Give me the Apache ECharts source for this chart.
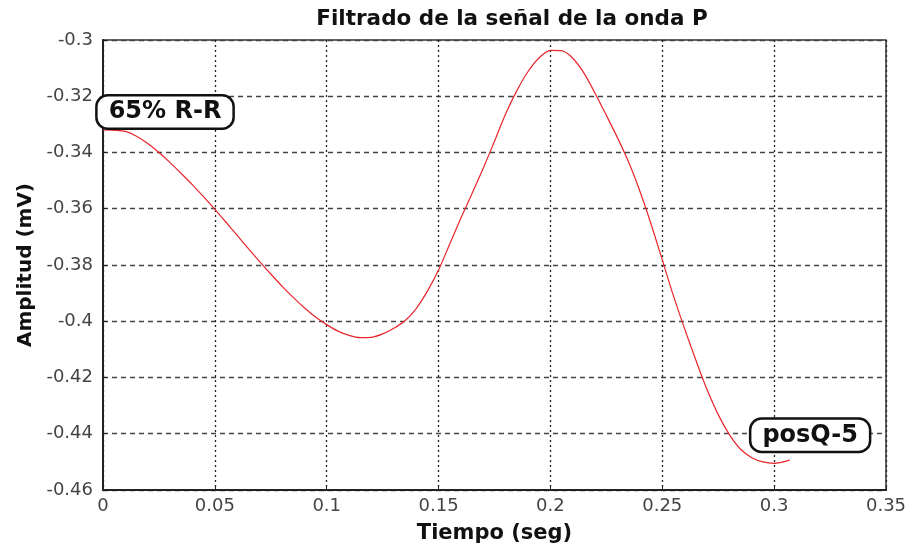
<!DOCTYPE html>
<html>
<head>
    <meta charset="utf-8"/>
    <title>Filtrado onda P</title>
    <script src="https://cdn.jsdelivr.net/npm/echarts@6/dist/echarts.min.js"></script>
    <style>
        html, body { margin: 0; padding: 0; background: #fff; }
        #main { width: 912px; height: 544px; }
    </style>
</head>
<body>
<div id="main"></div>
<script type="text/javascript">
    // tiempo (seg)
    var tiempo = [0, 0.005, 0.01, 0.015, 0.02, 0.025, 0.03, 0.035, 0.04, 0.045,
        0.05, 0.055, 0.06, 0.065, 0.07, 0.075, 0.08, 0.085, 0.09, 0.095,
        0.1, 0.105, 0.11, 0.115, 0.12, 0.125, 0.13, 0.135, 0.14, 0.145,
        0.15, 0.155, 0.16, 0.165, 0.17, 0.175, 0.18, 0.185, 0.19, 0.195,
        0.2, 0.205, 0.21, 0.215, 0.22, 0.225, 0.23, 0.235, 0.24, 0.245,
        0.25, 0.255, 0.26, 0.265, 0.27, 0.275, 0.28, 0.285, 0.29, 0.295,
        0.3, 0.305, 0.307];
    // amplitud (mV)
    var amplitud = [-0.332, -0.3321, -0.3325, -0.3342, -0.3368, -0.34, -0.3436, -0.3475, -0.3515, -0.3558,
        -0.3602, -0.3648, -0.3695, -0.3742, -0.3788, -0.3832, -0.3875, -0.3915, -0.3952, -0.3985,
        -0.4012, -0.4035, -0.405, -0.4058, -0.4057, -0.4045, -0.4025, -0.3998, -0.3955, -0.3893,
        -0.3818, -0.3725, -0.3633, -0.3545, -0.3455, -0.336, -0.3262, -0.318, -0.3112, -0.3063,
        -0.3037, -0.3038, -0.3065, -0.3118, -0.319, -0.3268, -0.3348, -0.3435, -0.3538, -0.3655,
        -0.3782, -0.391, -0.4027, -0.4138, -0.4243, -0.4332, -0.4403, -0.4455, -0.4485, -0.45,
        -0.4505, -0.4498, -0.4493];
    var etiquetas = ['65% R-R', 'posQ-5'];

    var datos = [];
    for (var i = 0; i < tiempo.length; i++) {
        datos.push([tiempo[i], amplitud[i]]);
    }

    var myChart = echarts.init(document.getElementById('main'));
    var fuente = 'DejaVu Sans';
    var cajaLabel = {
        show: true,
        color: '#111',
        fontFamily: fuente,
        fontWeight: 'bold',
        fontSize: 24,
        lineHeight: 26,
        backgroundColor: '#fff',
        borderColor: '#111',
        borderWidth: 2.5,
        borderRadius: 10,
        padding: [3, 11, 2, 11]
    };
    var option = {
        animation: false,
        title: {
            text: 'Filtrado de la señal de la onda P',
            left: 507,
            top: 3,
            textAlign: 'center',
            textStyle: { fontFamily: fuente, fontWeight: 'bold', fontSize: 21.5, color: '#111' }
        },
        grid: {
            left: 103, right: 26, top: 40, bottom: 54,
            outerBoundsMode: 'none',
            show: true, borderColor: '#333', borderWidth: 1.5
        },
        xAxis: {
            type: 'value',
            min: 0, max: 0.35, interval: 0.05,
            name: 'Tiempo (seg)',
            nameLocation: 'middle',
            nameGap: 33,
            nameTextStyle: { fontFamily: fuente, fontWeight: 'bold', fontSize: 21, color: '#111' },
            axisLine: { lineStyle: { color: '#222', width: 2 } },
            axisTick: { inside: true, length: 4, lineStyle: { color: '#222' } },
            axisLabel: { fontFamily: fuente, fontSize: 18, color: '#444', margin: 7 },
            splitLine: { show: true, lineStyle: { color: '#222', type: [2, 3], width: 1.3 } }
        },
        yAxis: {
            type: 'value',
            min: -0.46, max: -0.3, interval: 0.02,
            name: 'Amplitud (mV)',
            nameLocation: 'middle',
            nameGap: 67,
            nameTextStyle: { fontFamily: fuente, fontWeight: 'bold', fontSize: 20, color: '#111' },
            axisLine: { show: true, lineStyle: { color: '#222', width: 2 } },
            axisTick: { show: true, inside: true, length: 4, lineStyle: { color: '#222' } },
            axisLabel: { fontFamily: fuente, fontSize: 18, color: '#444', margin: 10 },
            splitLine: { show: true, lineStyle: { color: '#444', type: [5, 4], width: 1.3 } }
        },
        series: [{
            type: 'line',
            data: datos,
            smooth: 0.3,
            showSymbol: false,
            lineStyle: { color: '#e8262c', width: 1.2 },
            markPoint: {
                symbol: 'circle',
                symbolSize: 0,
                data: [
                    { coord: [tiempo[0], amplitud[0]], value: etiquetas[0],
                      label: Object.assign({}, cajaLabel, { offset: [62, -18], formatter: etiquetas[0] }) },
                    { coord: [tiempo[60], amplitud[60]], value: etiquetas[1],
                      label: Object.assign({}, cajaLabel, { offset: [36, -28], formatter: etiquetas[1] }) }
                ]
            }
        }]
    };
    myChart.setOption(option);
</script>
</body>
</html>
